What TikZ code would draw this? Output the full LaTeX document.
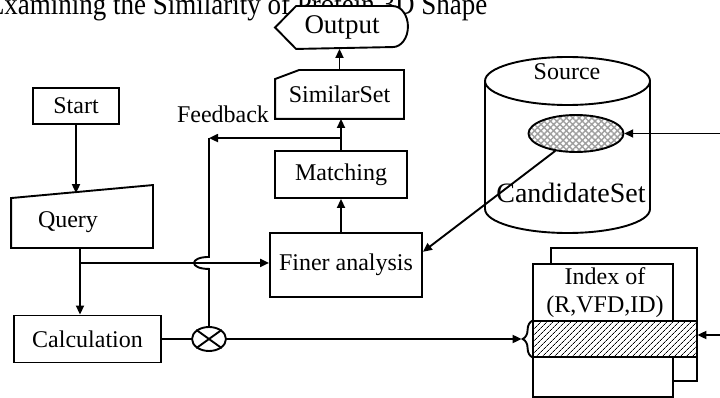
\documentclass[tikz,border=0pt]{standalone}
\usepackage{fontspec}
\setmainfont{Liberation Serif}
\usetikzlibrary{arrows.meta,calc,patterns.meta,decorations.pathreplacing,shapes.geometric}
\newcommand\fsz[1]{\fontsize{#1}{#1}\selectfont}
\begin{document}
\begin{tikzpicture}[x=1pt,y=-1pt,line width=1.9pt,
  arr/.style={-{Triangle[length=9pt,width=8pt]}},
  box/.style={draw,fill=white,inner sep=0pt,font=\fsz{24}},
  lbl/.style={inner sep=0pt,font=\fsz{24}}]

\useasboundingbox (0,0) rectangle (720,398);
\clip (0,0) rectangle (720,398);

% heading, partly hidden by the Output terminal
\node[lbl,anchor=base west,font=\fsz{30}] (title) at (-13,15)
  {\scalebox{0.9}[1]{Examining the Similarity of Protein 3D Shape}};

% Output display shape
\path node[minimum width=131pt,minimum height=41pt,inner sep=0pt] (out) at (341.5,27.5) {};
\draw[fill=white] (out.west) -- ($(out.north west)+(21,0)$) -- ($(out.north east)+(-15,0)$)
  arc[start angle=-90,end angle=90,x radius=15,y radius=20.5]
  -- ($(out.south west)+(21,0)$) -- cycle;
\node[lbl,font=\fsz{27}] (outtxt) at (342,27) {Output};

% SimilarSet card
\node[lbl,minimum width=127pt,minimum height=47pt] (sim) at (339.5,94.5) {SimilarSet};
\draw (sim.south west) -- ($(sim.north west)+(0,9)$) -- ($(sim.north west)+(24,0)$)
  -- (sim.north east) -- (sim.south east) -- cycle;

% process boxes
\node[box,minimum width=132pt,minimum height=47pt] (match) at (341,174.5) {Matching};
\node[box,minimum width=152pt,minimum height=64pt] (finer) at (346,265) {Finer analysis};
\node[box,minimum width=86pt,minimum height=36pt] (start) at (76,106) {Start};
\node[box,minimum width=147pt,minimum height=47pt] (calc) at (87.5,339) {Calculation};

% Query: manual input
\node[minimum width=140pt,minimum height=61pt,inner sep=0pt] (query) at (82,216.5) {};
\draw ($(query.north west)+(0,13)$) -- (query.north east) -- (query.south east)
  -- (query.south west) -- cycle;
\node[lbl] (querytxt) at (68,222) {Query};
\coordinate (qtop) at (76,193.1);

% multiplier junction
\node[ellipse,draw,minimum width=34pt,minimum height=24pt,inner sep=0pt] (mul) at (209,339) {};
\draw (mul.north east) -- (mul.south west) (mul.north west) -- (mul.south east);

% Source database
\draw[fill=white] (485,81) -- (485,209) arc[start angle=180,end angle=0,x radius=82.5,y radius=24] -- (650,81);
\draw[fill=white] (567.5,81) ellipse[x radius=82.5,y radius=24];
\node[lbl] (srctxt) at (567,72) {Source};
\node[lbl,font=\fsz{28}] (candtxt) at (571,193) {CandidateSet};
\node[ellipse,draw,minimum width=95pt,minimum height=37pt,inner sep=0pt,
  preaction={fill=white},
  pattern={Hatch[angle=45,distance=4.5pt,line width=1.4pt]},pattern color=gray!75] (cand) at (576,133.5) {};

% index stack
\node[draw,fill=white,minimum width=146pt,minimum height=133pt,inner sep=0pt] (idxback) at (624,314.5) {};
\node[draw,fill=white,minimum width=140pt,minimum height=133pt,inner sep=0pt] (idxfront) at (603,330.5) {};
\node[draw,preaction={fill=white},pattern={Lines[angle=45,distance=4pt,line width=0.8pt]},
  minimum width=164pt,minimum height=36pt,inner sep=0pt] (band) at (615,339) {};
\node[lbl,align=center,font=\fontsize{24}{28}\selectfont] (idxtxt) at (605,293) {Index of\\(R,VFD,ID)};
\draw[decorate,decoration={brace,amplitude=10pt}] (band.south west) -- (band.north west);
\coordinate (btip) at ($(band.west)+(-11,0)$);

% connectors
\coordinate (qbot) at ($(query.south)+(-2,0)$);
\coordinate (branch) at ($(qbot)+(0,15)$);
\draw[arr] (start) -- (qtop);
\draw[arr] (qbot) -- (qbot |- calc.north);
\draw[arr] (branch) -- (branch -| finer.west);
\draw[arr] (match.south |- finer.north) -- (match.south);
\draw[arr] (match.north) -- (match.north |- sim.south);
\draw[arr] (sim.north) -- (sim.north |- out.south);

% feedback loop, hopping over the query branch
\coordinate (fbsrc) at ($(match.north)+(0,-12)$);
\coordinate (fbcorner) at (mul.north |- fbsrc);
\coordinate (hopA) at ($(fbcorner |- branch)+(0,-6)$);
\coordinate (hopB) at ($(fbcorner |- branch)+(0,6)$);
\draw[arr] (fbsrc) -- (fbcorner);
\draw (fbcorner) -- (hopA) .. controls ($(hopA)+(-20,0)$) and ($(hopB)+(-20,0)$) .. (hopB) -- (mul.north);
\node[lbl] (fbtxt) at (223,114) {Feedback};

\draw (calc) -- (mul);
\draw[arr] (mul) -- (btip);

\draw[arr] (cand.220) -- ($(finer.north east)!0.3!(finer.south east)$);
\coordinate (srcin) at (720,133.5);
\draw[arr] (srcin) -- (cand.east);
\coordinate (idxin) at (720,335);
\draw[arr] (idxin) -- (idxin -| band.east);

\end{tikzpicture}
\end{document}
